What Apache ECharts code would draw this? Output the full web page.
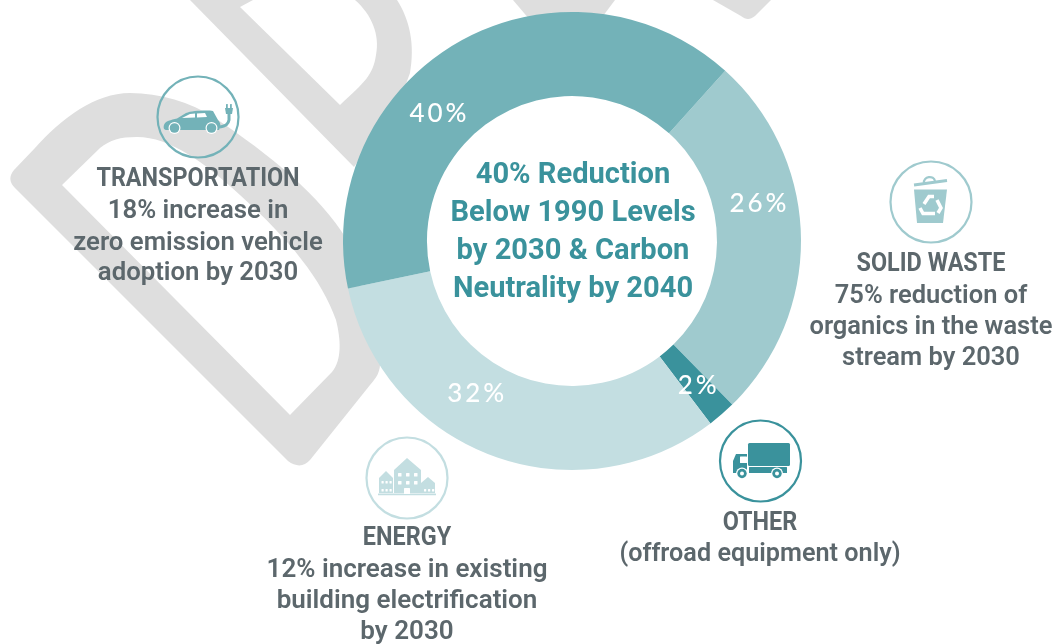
<!DOCTYPE html>
<html><head><meta charset="utf-8">
<style>
html,body{margin:0;padding:0;background:#fff}
#c{width:1055px;height:644px}
</style>
<script src="https://cdn.jsdelivr.net/npm/echarts@6/dist/echarts.min.js"></script>
</head><body><div id="c"></div>
<script>
const categories = ['Solid Waste','Other','Energy','Transportation'];
const shares = [26,2,32,40];
const sliceColors = ['#9fcace','#3a929c','#c3dee1','#73b2b8'];
const labelOffsets = [[-4,-33],[1,1],[-30,-25],[-39,37]];
const centerLines = ['40% Reduction','Below 1990 Levels','by 2030 & Carbon','Neutrality by 2040'];
const transportLines = ['TRANSPORTATION','18% increase in','zero emission vehicle','adoption by 2030'];
const wasteLines = ['SOLID WASTE','75% reduction of','organics in the waste','stream by 2030'];
const energyLines = ['ENERGY','12% increase in existing','building electrification','by 2030'];
const otherLines = ['OTHER','(offroad equipment only)'];

const GREY='#5c676c', WM='#dedede';
const gfx=[];
let shapeId=0;
function addPath(d,z,style){
  const name='p'+(shapeId++);
  echarts.graphic.registerShape(name,echarts.graphic.extendPath(d,{}));
  gfx.push({type:name,z,silent:true,style});
}
function wm(d,fill){addPath(d,-10,{fill:fill||WM});}
// watermark letters
wm('M14,170 L35,148 C62,118 95,93 130,93 C160,93 190,102 215,118 C270,155 320,195 347,240 L380,360 C381,372 376,378 370,385 L310,460 C304,467 296,467 288,461 L15,188 C9,182 9,176 14,170 Z');
wm('M62,185 L290,415 L332,372 C342,360 341,340 336,320 C322,280 290,240 240,195 C205,163 170,137 137,137 C120,137 110,140 100,148 Z','#fff');
wm('M190,0 L354,167 L400,100 L410,73 C415,45 410,20 397,0 L355,0 C372,15 380,35 376,55 C373,75 365,82 340,105 L240,7 L253,0 Z');
wm('M513,0 L530,20 L600,20 L615,0 Z');
wm('M713,0 L741,16 C746,20 750,20 755,16 L771,0 Z');

function circle(cx,cy,c){gfx.push({type:'circle',z:5,silent:true,shape:{cx,cy,r:40.5},style:{fill:'none',stroke:c,lineWidth:2.2}});}
function path(d,fill,extra){addPath(d,6,Object.assign({fill:fill},extra||{}));}
function dot(cx,cy,r,fill){gfx.push({type:'circle',z:7,silent:true,shape:{cx,cy,r},style:{fill}});}
function box(x,y,w,h,fill,z){gfx.push({type:'rect',z:z||7,silent:true,shape:{x,y,width:w,height:h,r:0.5},style:{fill}});}

// car icon
const T=sliceColors[3];
circle(198,117,T);
path('M164,125 C165,121 171,120 177,118.5 L186,113 C192,110.5 208,110 213,111 L218,120 C221,123 221,127 219,130 L167,130 C164,130 163,128 164,125 Z',T);
path('M182,118 L190,114 L195,113.5 L195,117.5 Z','#fff');
path('M197,113.5 L205,113 L207,117 L197,117.5 Z','#fff');
dot(174.5,128,6,'#fff');dot(174.5,128,4.8,T);
dot(211.5,128,6,'#fff');dot(211.5,128,4.8,T);
path('M229,114 L229,120 Q228,126 220,127',"none",{stroke:T,lineWidth:3});
path('M225,108 L233,108 L232,114 L226,114 Z',T);
box(226,104,1.8,5,T);box(230,104,1.8,5,T);

// trash icon
const W=sliceColors[0];
circle(931,202,W);
path('M914,185 L947,180.5',"none",{stroke:W,lineWidth:2.8});
path('M924,183 C923,176 934,175 935,181',"none",{stroke:W,lineWidth:2.2});
path('M914,189.5 L947,189.5 L943,223 L917,223 Z',W);
path('M924,204 L929,196.5 L934,196.5 M937,200 L941,208 L938,213 M935,213.5 L923,213.5 L920,208',"none",{stroke:'#fff',lineWidth:3.5});

// buildings icon
const E=sliceColors[2];
circle(407,478,E);
path('M394,470 L407,458 L421,470 L421,493 L394,493 Z',E);
path('M379,478 L386,471 L393,478 L393,493 L379,493 Z',E);
path('M421,483 L428,477 L435,483 L435,493 L421,493 Z',E);
box(378,493.5,58,1.8,E);
[398,406,414].forEach(x=>[473,481].forEach(y=>box(x,y,3.5,3.5,'#fff')));
box(404,488,6,6,'#fff');
[381.5,385.5,389.5].forEach(x=>[481,489].forEach(y=>box(x,y,2.2,2.5,'#fff')));
[424,428,432].forEach(x=>box(x,489,2.2,2.5,'#fff'));

// truck icon
const O=sliceColors[1];
circle(760.5,461,O);
gfx.push({type:'rect',z:6,silent:true,shape:{x:748,y:443,width:42,height:23,r:1.5},style:{fill:O}});
path('M736,454 L747,454 L747,473 L733,473 L733,461 Z',O);
box(740,456.5,7,6.5,'#fff');
box(749,467,38,6,O,6);
dot(742,473.5,6,'#fff');dot(742,473.5,4.7,O);dot(742,473.5,2,'#fff');
dot(777,473.5,6,'#fff');dot(777,473.5,4.7,O);dot(777,473.5,2,'#fff');

// text blocks
function block(lines,cx,ys,font,fill,sx,firstFont,firstSx){
  lines.forEach((t,i)=>gfx.push({type:'text',z:10,silent:true,x:cx,y:ys[i]+2.5,scaleX:(i===0&&firstSx)?firstSx:sx,
    style:{text:t,x:0,y:0,align:'center',verticalAlign:'middle',fill,font:(i===0&&firstFont)?firstFont:font}}));
}
const body='600 26px Roboto', head='700 26px Roboto';
block(centerLines,573,[173,211,249,287],'700 30px Roboto','#3a929c',0.97);
block(transportLines,198,[177,209,241,271],body,GREY,0.99,head,0.9);
block(wasteLines,931,[262,294,325,356],body,GREY,0.98,head,0.9);
block(energyLines,407,[536,568,599,630],body,GREY,1.0,head,0.9);
block(otherLines,760,[521,552],body,GREY,0.97,head,0.9);

const chart=echarts.init(document.getElementById('c'));
chart.setOption({
  animation:false,
  backgroundColor:'#fff',
  tooltip:{show:false},
  graphic:{elements:gfx},
  series:[{
    type:'pie',
    center:[572,241],
    radius:[145,229],
    startAngle:48,
    clockwise:true,
    silent:true,
    z:2,
    labelLine:{show:false},
    label:{show:true,position:'inside',
      formatter:p=>(p.value+'%').split('').map(ch=>'{g|'+ch+'}').join(''),
      rich:{g:{color:'#fff',fontFamily:'Lato',fontWeight:500,fontSize:26,padding:[0,1.5]}}},
    data:categories.map((n,i)=>({name:n,value:shares[i],itemStyle:{color:sliceColors[i]},label:{offset:labelOffsets[i]}}))
  }]
});
</script></body></html>
